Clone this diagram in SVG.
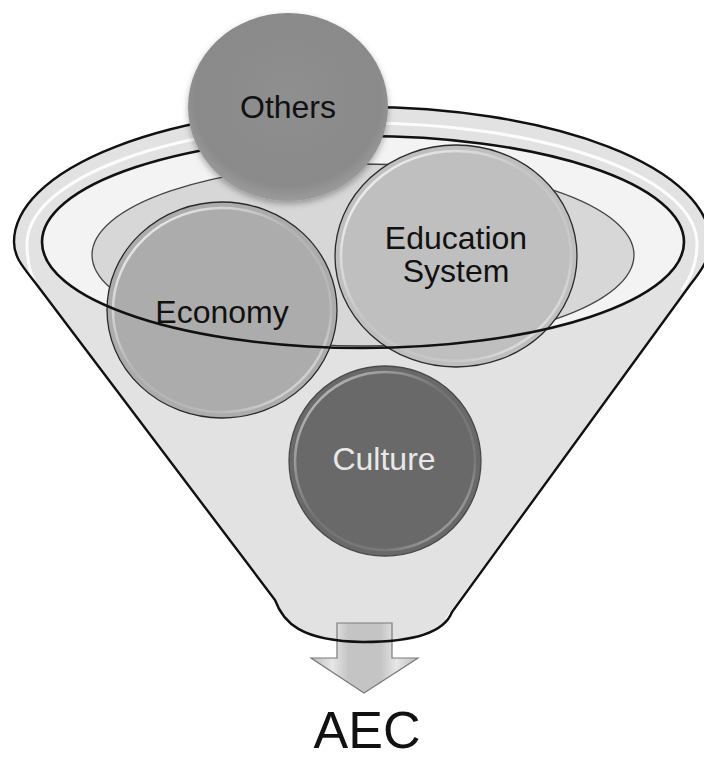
<svg xmlns="http://www.w3.org/2000/svg" width="704" height="758" viewBox="0 0 704 758">
  <defs>
    <style>
      .lbl { font-family: "Liberation Sans", Arial, sans-serif; font-size: 32px; text-anchor: middle; fill: #111; }
      .ring { fill: none; stroke: #2a2a2a; stroke-width: 1.3; }
      .gloss { fill: none; stroke: url(#glossGrad); stroke-width: 2.5; }
      .rimline { fill: none; stroke: #111; stroke-width: 2.6; }
    </style>
    <linearGradient id="glossGrad" x1="0" y1="0" x2="1" y2="1">
      <stop offset="0" stop-color="#ffffff" stop-opacity="0.95"/>
      <stop offset="0.45" stop-color="#ffffff" stop-opacity="0.1"/>
      <stop offset="0.75" stop-color="#ffffff" stop-opacity="0.15"/>
      <stop offset="1" stop-color="#ffffff" stop-opacity="0.85"/>
    </linearGradient>
    <radialGradient id="othersGrad" cx="0.5" cy="0.45" r="0.55">
      <stop offset="0" stop-color="#8f8f8f"/>
      <stop offset="0.85" stop-color="#8a8a8a"/>
      <stop offset="1" stop-color="#9c9c9c"/>
    </radialGradient>
    <linearGradient id="arrowGrad" x1="0" y1="0" x2="1" y2="0">
      <stop offset="0" stop-color="#bdbdbd"/>
      <stop offset="0.2" stop-color="#e6e6e6"/>
      <stop offset="0.35" stop-color="#c4c4c4"/>
      <stop offset="0.65" stop-color="#c4c4c4"/>
      <stop offset="0.8" stop-color="#e6e6e6"/>
      <stop offset="1" stop-color="#bdbdbd"/>
    </linearGradient>
    <filter id="shadow" x="-20%" y="-20%" width="140%" height="140%">
      <feDropShadow dx="0" dy="3" stdDeviation="3" flood-color="#000" flood-opacity="0.3"/>
    </filter>
  </defs>

  <rect x="0" y="0" width="704" height="758" fill="#ffffff"/>

  <g id="funnel">
    <path d="M 14,242 C 14,258 24,268 37,285 L 275,600 C 283,622 300,641 363,642 C 425,642 446,628 452,612 L 690,285 C 702,270 710,258 710,242 A 348,135 0 0 0 14,242 Z" fill="#e2e2e2"/>
    <path d="M 40,290 C 30,278 27,262 27,244 A 335,121 0 0 1 697,244 C 697,262 692,276 682,290" fill="none" stroke="#ffffff" stroke-width="3" stroke-opacity="0.9"/>
    <path d="M 42,300 L 118,402" fill="none" stroke="#ffffff" stroke-width="3" stroke-opacity="0.6"/>
    <path d="M 683,296 L 446,620" fill="none" stroke="#ffffff" stroke-width="3" stroke-opacity="0.85"/>
    <ellipse cx="363" cy="242" rx="321" ry="106" fill="#f3f3f3"/>
    <ellipse cx="363" cy="255" rx="271" ry="91" fill="#d7d7d7" stroke="#444" stroke-width="1.3"/>
  </g>

  <g id="arrow">
    <path d="M 337,623 L 392,623 L 392,658 L 418,658 L 364,693 L 311,658 L 337,658 Z" fill="url(#arrowGrad)" stroke="#7a7a7a" stroke-width="1.2"/>
  </g>

  <g id="funnel-outline">
    <path d="M 14,242 C 14,258 24,268 37,285 L 275,600 C 283,622 300,641 363,642 C 425,642 446,628 452,612 L 690,285 C 702,270 710,258 710,242 A 348,135 0 0 0 14,242 Z" fill="none" stroke="#111" stroke-width="2.4"/>
  </g>

  <g id="economy">
    <ellipse cx="222" cy="310" rx="115" ry="108" fill="#acacac"/>
    <ellipse cx="222" cy="310" rx="109" ry="102" class="gloss"/>
    <ellipse cx="222" cy="310" rx="115" ry="108" class="ring"/>
  </g>

  <g id="education">
    <ellipse cx="456" cy="256" rx="121" ry="111" fill="#bfbfbf"/>
    <ellipse cx="456" cy="256" rx="115" ry="105" class="gloss"/>
    <ellipse cx="456" cy="256" rx="121" ry="111" class="ring"/>
  </g>

  <g id="culture">
    <ellipse cx="385" cy="461" rx="96" ry="95" fill="#696969"/>
    <ellipse cx="385" cy="461" rx="90" ry="89" class="gloss" stroke-opacity="0.7"/>
    <ellipse cx="385" cy="461" rx="96" ry="95" fill="none" stroke="#4a4a4a" stroke-width="1.3"/>
  </g>

  <g id="rim-front">
    <ellipse cx="363" cy="242" rx="321" ry="106" class="rimline"/>
  </g>

  <g id="others">
    <ellipse cx="288" cy="107" rx="100" ry="94" fill="url(#othersGrad)" filter="url(#shadow)"/>
  </g>

  <g id="labels">
    <text class="lbl" x="288" y="118">Others</text>
    <text class="lbl" x="456" y="249">Education</text>
    <text class="lbl" x="456" y="282">System</text>
    <text class="lbl" x="222" y="323">Economy</text>
    <text class="lbl" x="384" y="470" style="fill:#e8e8e8">Culture</text>
    <text class="lbl" x="367" y="748" style="font-size:52px">AEC</text>
  </g>
</svg>
